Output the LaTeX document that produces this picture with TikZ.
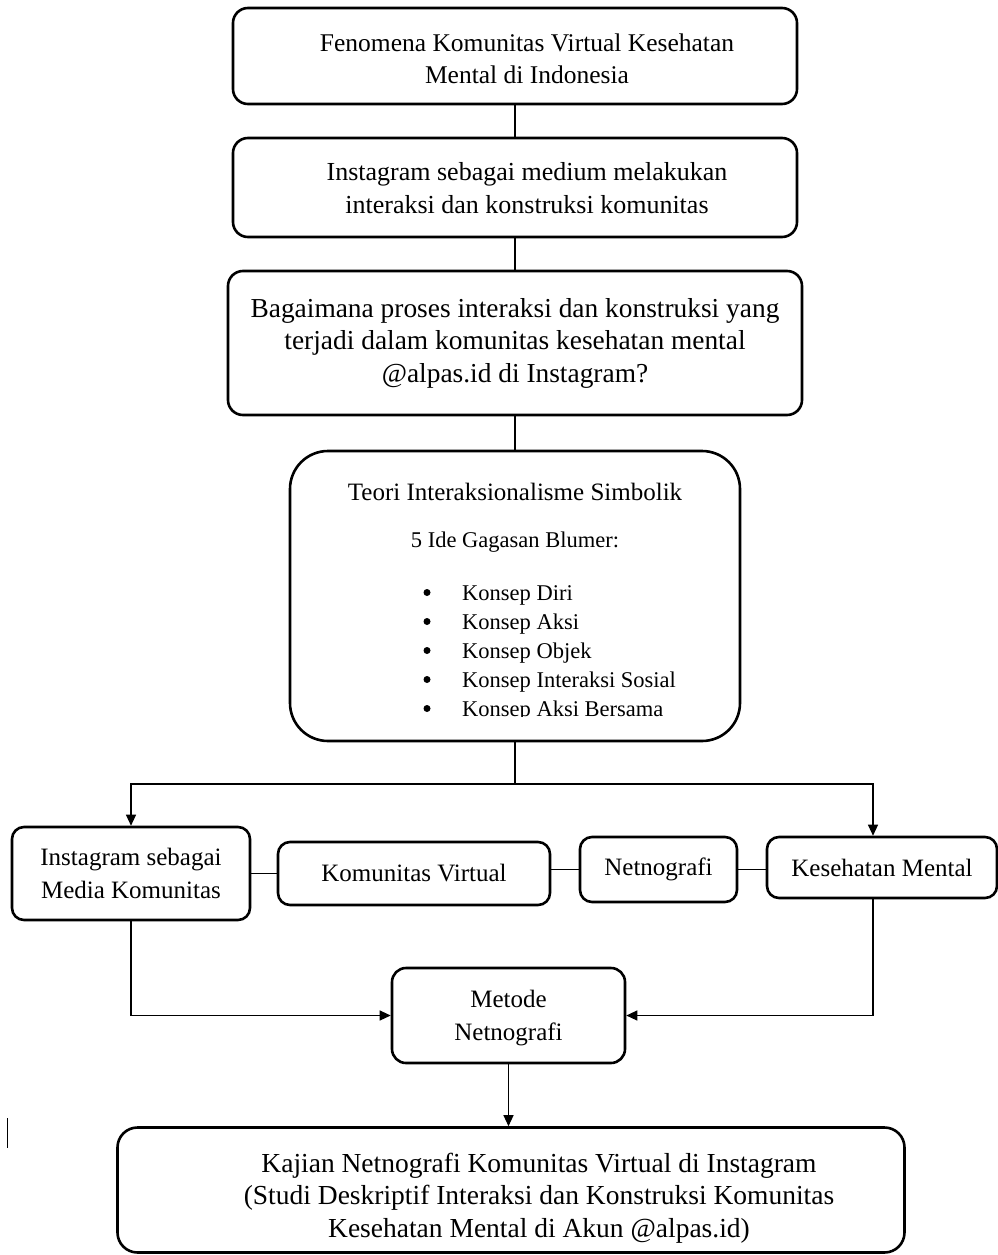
\documentclass[tikz,border=0pt]{standalone}
\usepackage{fontspec}
\setmainfont{Liberation Serif}
\usetikzlibrary{arrows.meta}

\newcommand{\ukuran}[1]{\fontsize{#1}{32.5}\selectfont}

\begin{document}
\begin{tikzpicture}[x=1pt, y=-1pt,
  kotak/.style={draw, line width=2.6pt, rounded corners=15pt, align=center, inner sep=0pt},
  garis/.style={line width=1.2pt},
  panah/.style={garis, -{Triangle[length=11pt, width=10pt]}}]
\fill[white] (0,0) rectangle (998,1255);
\useasboundingbox (0,0) rectangle (998,1255);

\node[kotak, minimum width=564, minimum height=96] (A1) at (515,56) {};
\node[align=center, font=\ukuran{25.5}] (A1a) at (527,59) {Fenomena Komunitas Virtual Kesehatan\\Mental di Indonesia};
\node[kotak, minimum width=564, minimum height=99] (B1) at (515,187.5) {};
\node[align=center, font=\ukuran{26}] (B1a) at (527,188) {Instagram sebagai medium melakukan\\interaksi dan konstruksi komunitas};
\node[kotak, minimum width=574, minimum height=144, font=\ukuran{27.4}] (C1) at (515,343) {Bagaimana proses interaksi dan konstruksi yang\\terjadi dalam komunitas kesehatan mental\\@alpas.id di Instagram?};

% teori
\node[kotak, rounded corners=38pt, minimum width=450, minimum height=290] (D1) at (515,596) {};
\node[font=\ukuran{25}, anchor=base] (D1a) at (515,500) {Teori Interaksionalisme Simbolik};
\node[font=\ukuran{22.5}, anchor=base] (D1b) at (515,547.5) {5 Ide Gagasan Blumer:};
\begin{scope}
\clip (290,451) rectangle (740,716.5);
\foreach \isi [count=\i] in {Konsep Diri, Konsep Aksi, Konsep Objek, Konsep Interaksi Sosial, Konsep Aksi Bersama} {
  \node[circle, fill, inner sep=0pt, minimum size=7] (t\i) at (427,563.5+29*\i) {};
  \node[font=\ukuran{22.5}, anchor=base west, inner sep=0pt] (k\i) at (462,571+29*\i) {\isi};
}
\end{scope}

\node[kotak, rounded corners=12pt, minimum width=238, minimum height=93, font=\ukuran{25}] (E1) at (131,873.5) {Instagram sebagai\\Media Komunitas};
\node[kotak, rounded corners=12pt, minimum width=272, minimum height=63, font=\ukuran{25}] (E2) at (414,873.5) {Komunitas Virtual};
\node[kotak, rounded corners=12pt, minimum width=157, minimum height=65, font=\ukuran{25}] (E3) at (658.5,869.5) {Netnografi};
\node[kotak, rounded corners=12pt, minimum width=230, minimum height=61, font=\ukuran{25}] (E4) at (882,867.5) {Kesehatan Mental};

\node[kotak, rounded corners=14pt, minimum width=233, minimum height=95] (F1) at (508.5,1015.5) {};
\node[align=center, font=\ukuran{25}] (F1a) at (508.5,1018) {Metode\\Netnografi};

\node[kotak, rounded corners=20pt, minimum width=787, minimum height=125] (G1) at (511,1190) {};
\node[align=center, font=\ukuran{27.5}] (G1a) at (539,1198) {Kajian Netnografi Komunitas Virtual di Instagram\\(Studi Deskriptif Interaksi dan Konstruksi Komunitas\\Kesehatan Mental di Akun @alpas.id)};

\coordinate (cab) at (515,784);
\draw[garis] (A1) -- (B1);
\draw[garis] (B1) -- (C1);
\draw[garis] (C1) -- (D1);
\draw[garis] (D1.south) -- (cab);
\draw[panah] (cab) -| (E1.north);
\draw[panah] (cab) -| ([xshift=-9pt]E4.north);
\draw[garis] (E1.east |- E2.west) -- (E2.west);
\draw[garis] (E2.east |- E3.west) -- (E3.west);
\draw[garis] (E3.east) -- (E3.east -| E4.west);
\draw[panah] (E1.south) |- (F1.west);
\draw[panah] ([xshift=-9pt]E4.south) |- (F1.east);
\draw[panah] (F1.south) -- (F1.south |- G1.north);

\draw[line width=1pt] (7,1118) -- (7,1148);
\end{tikzpicture}
\end{document}
